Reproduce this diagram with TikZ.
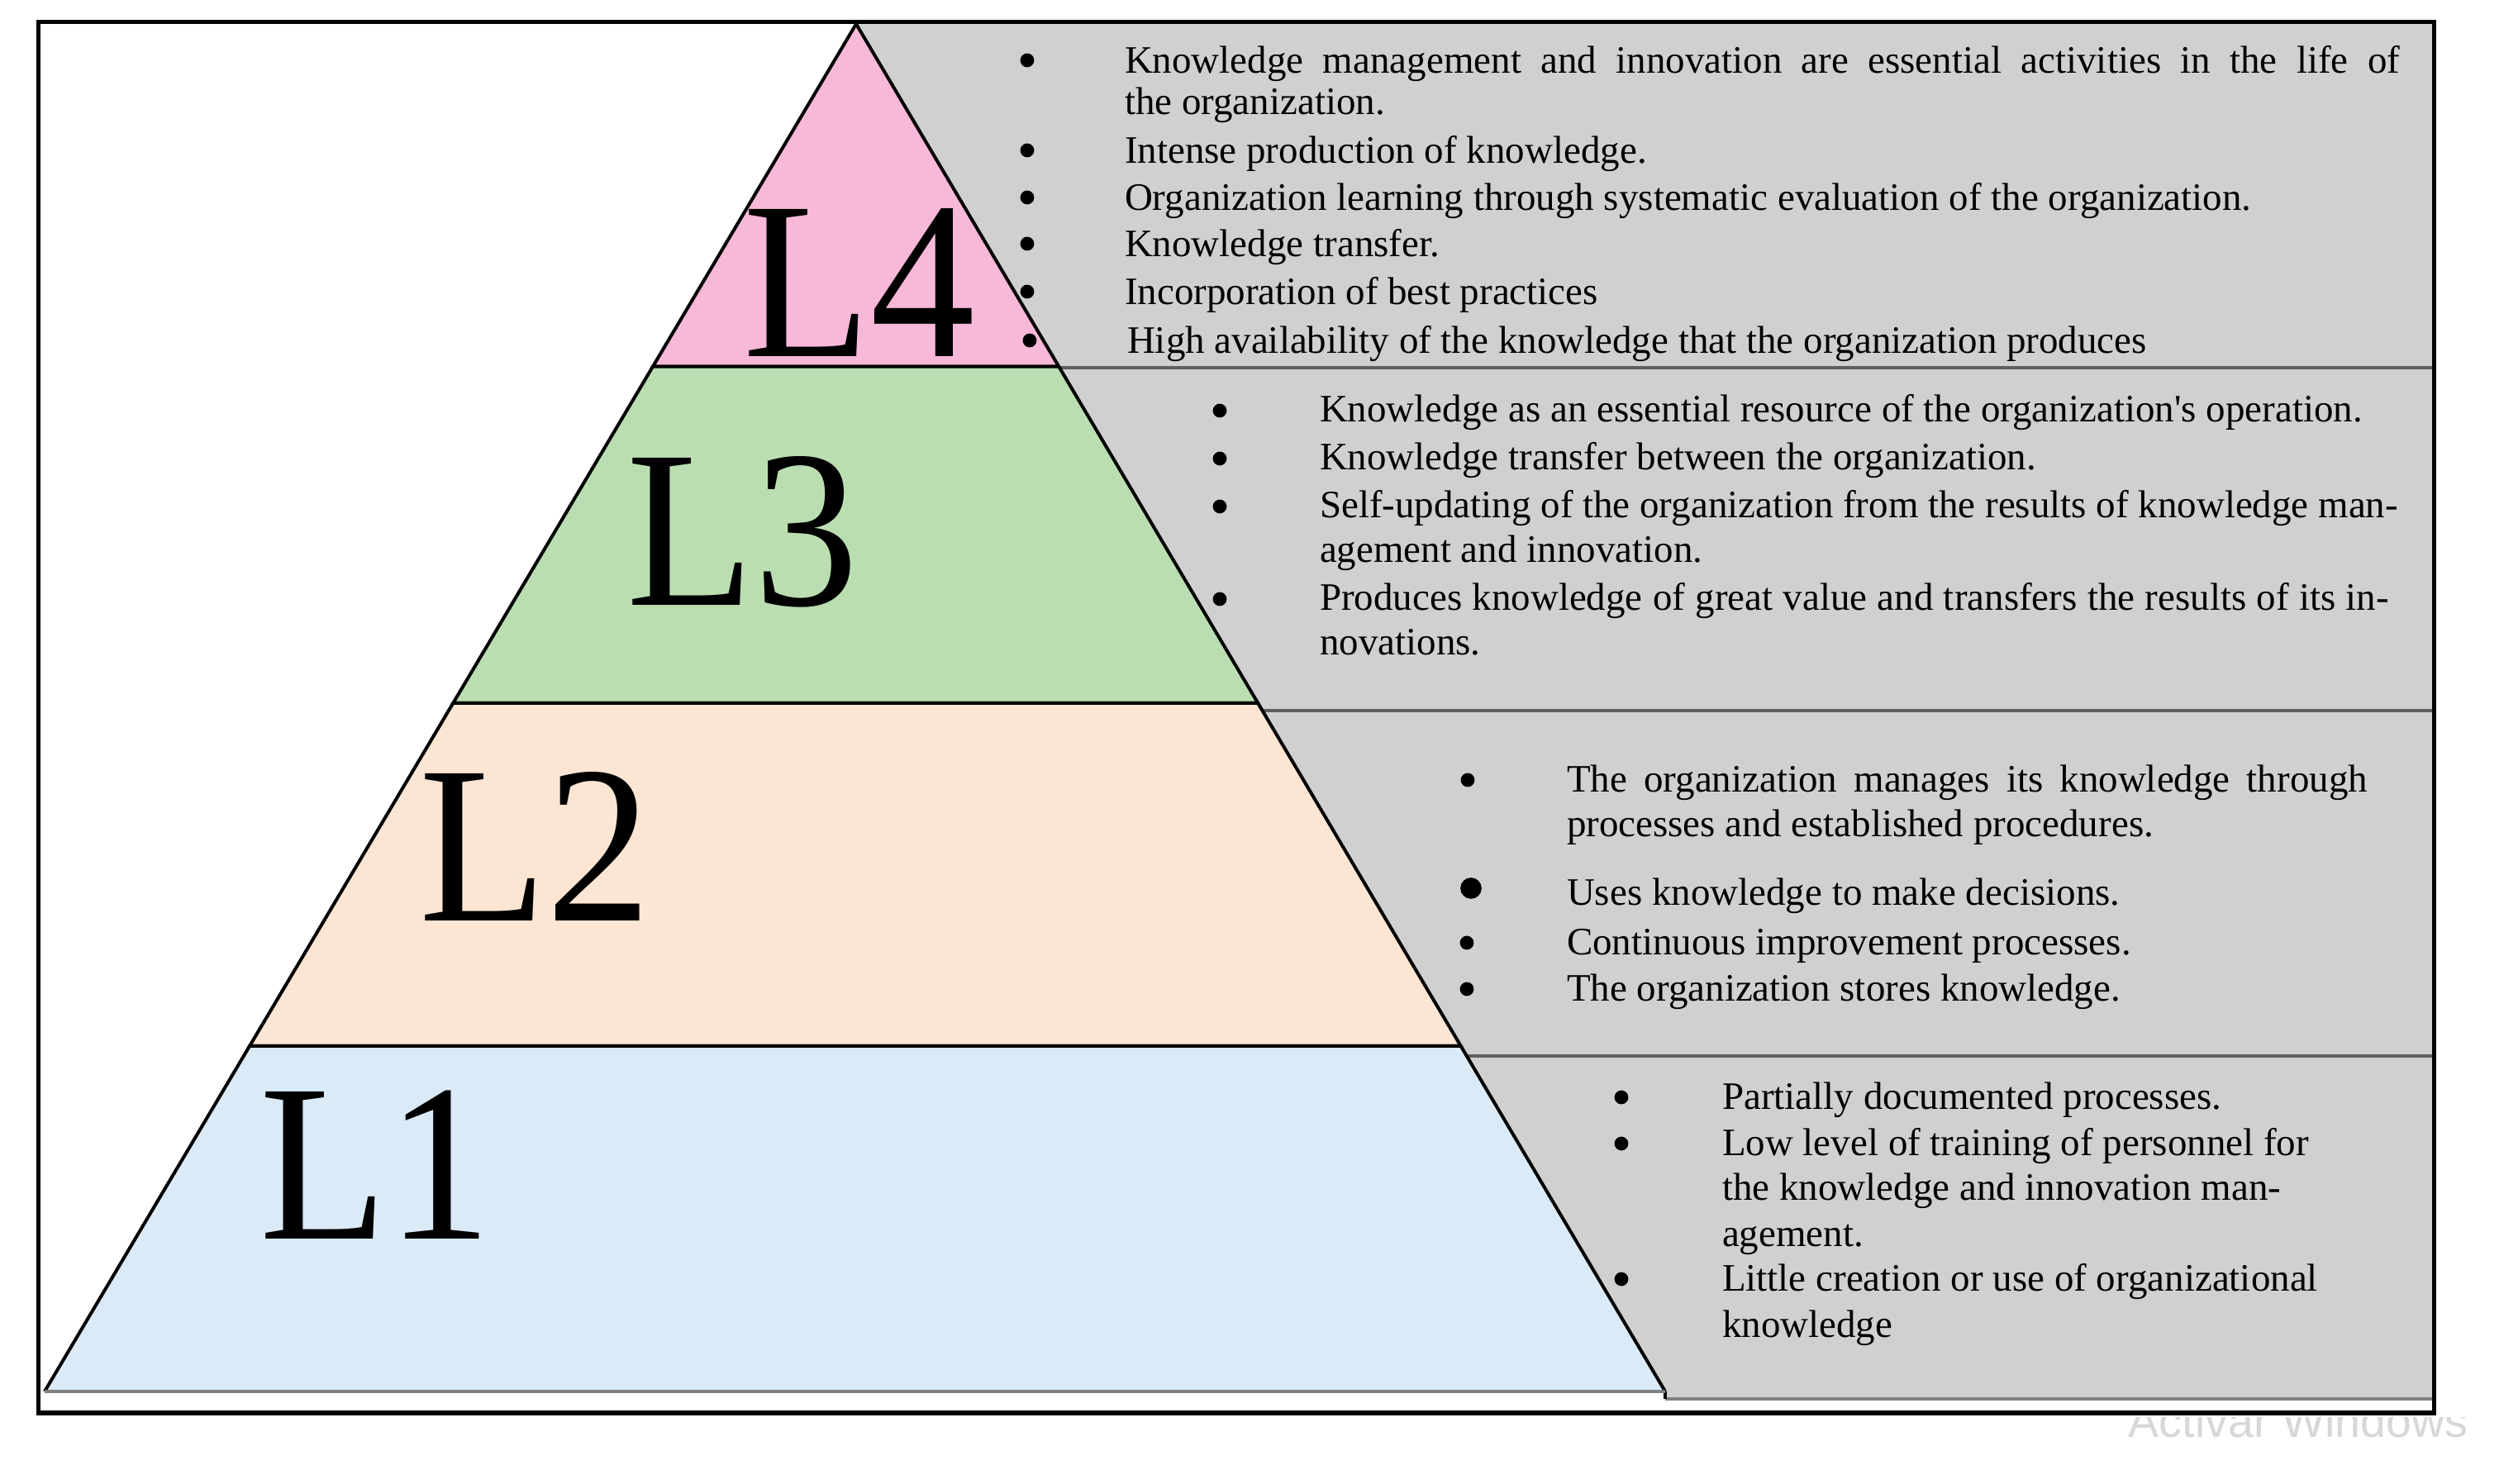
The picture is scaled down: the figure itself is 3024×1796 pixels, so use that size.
\documentclass[tikz,border=0pt]{standalone}
\usepackage{fontspec}
\usetikzlibrary{calc}
\setmainfont{Liberation Serif}
\newfontfamily\wmfont{Liberation Sans}
\definecolor{cLfour}{RGB}{248,184,216}
\definecolor{cLthree}{RGB}{186,222,178}
\definecolor{cLtwo}{RGB}{253,229,212}
\definecolor{cLone}{RGB}{218,234,247}
\definecolor{cGray}{RGB}{208,208,208}
\definecolor{sepgray}{RGB}{95,95,95}
\definecolor{wmgray}{RGB}{215,215,215}
\begin{document}
\begin{tikzpicture}[x=0.25pt,y=-0.25pt,
  txt/.style={anchor=base west,inner sep=0pt,outer sep=0pt,yshift=-0.75pt,font=\fontsize{11.75}{14}\selectfont},
  bul/.style={circle,fill=black,inner sep=0pt,outer sep=0pt,minimum size=4.2pt},
  bigbul/.style={circle,fill=black,inner sep=0pt,outer sep=0pt,minimum size=6.4pt},
  lvl/.style={anchor=base west,inner sep=0pt,outer sep=0pt,font=\fontsize{68}{70}\selectfont},
  band/.style={draw=black,line width=1pt,line join=miter},
  sepline/.style={draw=sepgray,line width=0.9pt},
  frame/.style={draw=black,line width=1.25pt}]
\useasboundingbox (0,0) rectangle (3024,1796);
% key points
\coordinate (A) at (1036,29);
\coordinate (BL) at (54,1684);
\coordinate (BR) at (2015,1684);
\coordinate (La) at ($(A)!0.2506!(BL)$);
\coordinate (Ra) at ($(A)!0.2506!(BR)$);
\coordinate (Lb) at ($(A)!0.4966!(BL)$);
\coordinate (Rb) at ($(A)!0.4966!(BR)$);
\coordinate (Lc) at ($(A)!0.7474!(BL)$);
\coordinate (Rc) at ($(A)!0.7474!(BR)$);
% gray panel
\coordinate (G0) at (1036,27);
\coordinate (Gb) at (2015,1693);
\coordinate (GR0) at (2945,27);
\coordinate (GRb) at (2945,1693);
\fill[cGray] (G0) -- (BR) -- (Gb) -- (GRb) -- (GR0) -- cycle;
\draw[sepline,draw=gray] (Gb) -- (GRb);
\coordinate (S1) at ($(A)!0.2514!(BR)$);
\coordinate (S2) at ($(A)!0.5021!(BR)$);
\coordinate (S3) at ($(A)!0.7547!(BR)$);
\draw[sepline] (S1) -- (S1 -| GR0);
\draw[sepline] (S2) -- (S2 -| GR0);
\draw[sepline] (S3) -- (S3 -| GR0);
\draw[black,line width=1pt] (Gb) -- (BR);
% pyramid bands
\filldraw[band,fill=cLfour] (A) -- (Ra) -- (La) -- cycle;
\filldraw[band,fill=cLthree] (La) -- (Ra) -- (Rb) -- (Lb) -- cycle;
\filldraw[band,fill=cLtwo] (Lb) -- (Rb) -- (Rc) -- (Lc) -- cycle;
\fill[cLone] (Lc) -- (Rc) -- (BR) -- (BL) -- cycle;
\draw[band] (BL) -- (Lc) -- (Rc) -- (BR);
\draw[draw=gray,line width=0.9pt] (BL) -- (BR);
% level labels
\node[lvl] (l4) at (899,432) {\scalebox{0.93}[1]{L4}};
\node[lvl] (l3) at (758,733) {\scalebox{0.93}[1]{L3}};
\node[lvl] (l2) at (507,1115) {\scalebox{0.93}[1]{L2}};
\node[lvl] (l1) at (314,1500) {\scalebox{0.93}[1]{L1}};
% L4 text
\node[bul] (b41) at (1243,73) {};
\node[txt] (t41) at (1361,86) {\makebox[385.75pt][s]{Knowledge management and innovation are essential activities in the life of}};
\node[txt] (t41b) at (1361,136) {the organization.};
\node[bul] (b42) at (1243,182) {};
\node[txt] (t42) at (1361,195) {Intense production of knowledge.};
\node[bul] (b43) at (1243,239) {};
\node[txt] (t43) at (1361,252) {Organization learning through systematic evaluation of the organization.};
\node[bul] (b44) at (1243,295) {};
\node[txt] (t44) at (1361,308) {Knowledge transfer.};
\node[bul] (b45) at (1243,353) {};
\node[txt] (t45) at (1361,366) {Incorporation of best practices};
\node[bul] (b46) at (1246,412) {};
\node[txt] (t46) at (1364,425) {High availability of the knowledge that the organization produces};
% L3 text
\node[bul] (b31) at (1476,497) {};
\node[txt] (t31) at (1597,508) {Knowledge as an essential resource of the organization\textquotesingle s operation.};
\node[bul] (b32) at (1476,555) {};
\node[txt] (t32) at (1597,566) {Knowledge transfer between the organization.};
\node[bul] (b33) at (1476,613) {};
\node[txt] (t33) at (1597,624) {\makebox[326.25pt][s]{Self-updating of the organization from the results of knowledge man-}};
\node[txt] (t33b) at (1597,678) {agement and innovation.};
\node[bul] (b34) at (1476,725) {};
\node[txt] (t34) at (1597,736) {\makebox[323.5pt][s]{Produces knowledge of great value and transfers the results of its in-}};
\node[txt] (t34b) at (1597,790) {novations.};
% L2 text
\node[bul] (b21) at (1776,944) {};
\node[txt] (t21) at (1896,956) {\makebox[242.25pt][s]{The organization manages its knowledge through}};
\node[txt] (t21b) at (1896,1010) {processes and established procedures.};
\node[bigbul] (b22) at (1780,1075) {};
\node[txt] (t22) at (1896,1093) {Uses knowledge to make decisions.};
\node[bul] (b23) at (1775,1141) {};
\node[txt] (t23) at (1896,1153) {Continuous improvement processes.};
\node[bul] (b24) at (1775,1197) {};
\node[txt] (t24) at (1896,1209) {The organization stores knowledge.};
% L1 text
\node[bul] (b11) at (1962,1328) {};
\node[txt] (t11) at (2084,1340) {Partially documented processes.};
\node[bul] (b12) at (1962,1384) {};
\node[txt] (t12) at (2084,1396) {Low level of training of personnel for};
\node[txt] (t12b) at (2084,1450) {the knowledge and innovation man-};
\node[txt] (t12c) at (2084,1506) {agement.};
\node[bul] (b13) at (1962,1548) {};
\node[txt] (t13) at (2084,1560) {Little creation or use of organizational};
\node[txt] (t13b) at (2084,1616) {knowledge};
% watermark
\begin{scope}
\clip (2400,1715) rectangle (2990,1796);
\node[anchor=base west,inner sep=0pt,text=wmgray,font=\wmfont\fontsize{13.9}{15}\selectfont] (wm) at (2575,1740) {Activar Windows};
\end{scope}
% outer frame
\draw[frame] (46,27) rectangle (2945,1710);
\end{tikzpicture}
\end{document}
